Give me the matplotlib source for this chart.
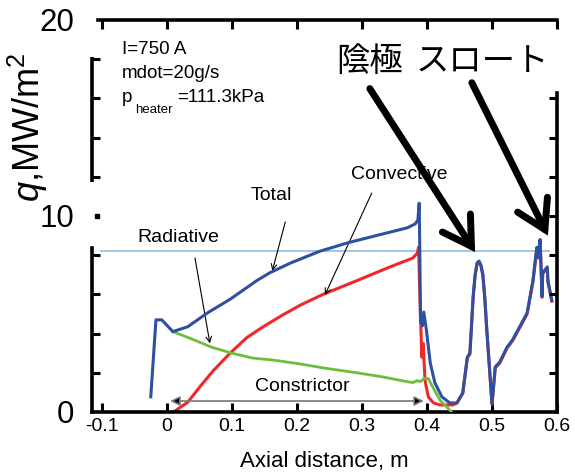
import matplotlib
matplotlib.use('Agg')
import matplotlib.pyplot as plt

plt.rcParams['font.family'] = ['Liberation Sans', 'Noto Sans CJK JP', 'DejaVu Sans']
plt.rcParams['mathtext.fontset'] = 'custom'
plt.rcParams['mathtext.rm'] = 'Liberation Sans'
plt.rcParams['mathtext.it'] = 'Liberation Sans:italic'
plt.rcParams['axes.unicode_minus'] = False

# 全熱流束 (Total)
total_x = [-0.025, -0.017, -0.008, 0.009, 0.032, 0.062, 0.097, 0.138, 0.158, 0.19,
           0.235, 0.28, 0.34, 0.37, 0.382, 0.386, 0.388, 0.389, 0.390, 0.393,
           0.395, 0.399, 0.405, 0.412, 0.423, 0.435, 0.446, 0.455, 0.462, 0.466,
           0.471, 0.474, 0.477, 0.480, 0.483, 0.486, 0.489, 0.492, 0.5, 0.505,
           0.512, 0.523, 0.532, 0.554, 0.563, 0.569, 0.571, 0.574, 0.577, 0.578,
           0.585, 0.586, 0.592]
total_q = [0.77, 4.7, 4.7, 4.1, 4.35, 5.05, 5.75, 6.7, 7.1, 7.6,
           8.2, 8.65, 9.15, 9.4, 9.6, 9.8, 10.65, 8.0, 4.6, 4.4,
           5.1, 4.2, 2.5, 1.5, 0.77, 0.46, 0.46, 0.97, 2.8, 3.0,
           5.9, 7.0, 7.6, 7.7, 7.5, 7.0, 5.8, 4.2, 0.4, 2.3,
           2.55, 3.3, 3.7, 5.05, 6.7, 8.4, 7.9, 8.8, 5.9, 7.1,
           7.4, 6.7, 5.7]

# 対流 (Convective)
conv_x = [0.01, 0.032, 0.051, 0.071, 0.097, 0.123, 0.148, 0.178, 0.205, 0.24,
          0.292, 0.343, 0.378, 0.385, 0.387, 0.389, 0.392, 0.394, 0.397, 0.402,
          0.41, 0.42, 0.44, 0.446, 0.455, 0.462, 0.466, 0.471, 0.474, 0.477,
          0.480, 0.483, 0.486, 0.489, 0.492, 0.5, 0.505, 0.512, 0.523, 0.532,
          0.554, 0.563, 0.569, 0.571, 0.574, 0.577, 0.578, 0.585, 0.586, 0.592]
conv_q = [0.0, 0.5, 1.3, 2.1, 3.0, 3.8, 4.35, 4.95, 5.45, 6.0,
          6.7, 7.4, 7.85, 8.1, 8.4, 6.0, 2.8, 3.5, 1.6, 0.77,
          0.46, 0.36, 0.36, 0.46, 0.95, 2.75, 2.95, 5.85, 6.95, 7.55,
          7.65, 7.45, 6.95, 5.75, 4.15, 0.4, 2.25, 2.5, 3.25, 3.65,
          5.0, 6.65, 8.35, 7.85, 8.75, 5.85, 7.05, 7.35, 6.65, 5.65]

# 輻射 (Radiative)
rad_x = [0.009, 0.04, 0.069, 0.1, 0.132, 0.163, 0.205, 0.24, 0.292, 0.33,
         0.369, 0.378, 0.385, 0.39, 0.395, 0.402, 0.41, 0.42, 0.435, 0.445]
rad_q = [4.1, 3.7, 3.3, 3.0, 2.75, 2.65, 2.45, 2.25, 2.0, 1.8,
         1.55, 1.5, 1.6, 1.55, 1.7, 1.7, 1.2, 0.6, 0.1, -0.3]

ref_level = 8.2
ref_x0, ref_x1 = -0.103, 0.589

x_ticks = [-0.1, 0, 0.1, 0.2, 0.3, 0.4, 0.5, 0.6]
x_labels = ['-0.1', '0', '0.1', '0.2', '0.3', '0.4', '0.5', '0.6']
y_major = [0, 10, 20]
y_minor_left = [2, 4, 6, 8, 12, 14, 16, 18]
y_ticks_right = [2, 4, 6, 8, 10, 12, 14, 16]

fig = plt.figure(figsize=(5.75, 4.76), dpi=100)
ax = fig.add_axes([0.16, 0.1345, 0.8087, 0.8235])
ax.set_xlim(-0.1154, 0.6)
ax.set_ylim(0, 20)

ax.hlines(ref_level, ref_x0, ref_x1, color='#8fbde3', lw=1.2, zorder=1)
ax.plot(conv_x, conv_q, color='#f0282a', lw=2.2, zorder=2)
ax.plot(rad_x, rad_q, color='#6cbf3c', lw=2.0, zorder=3)
ax.plot(total_x, total_q, color='#2d50a0', lw=2.2, zorder=4)

# 軸
sw = 2.6
for s in ax.spines.values():
    s.set_linewidth(sw)
ax.spines['right'].set_visible(False)
ax.spines['left'].set_bounds(0, 8.37)
ax.spines['top'].set_bounds(-0.106, 0.6)
ax.plot([-0.1154, -0.1154], [11.73, 18.1], color='black', lw=sw,
        solid_capstyle='butt', clip_on=False, zorder=5)
ax.plot([-0.107], [10], marker='s', ms=3.5, color='black', clip_on=False)

ax.set_xticks(x_ticks)
ax.set_xticklabels(x_labels)
ax.tick_params(axis='x', which='major', direction='in', length=6.5, width=2.2,
               top=True, bottom=True, labelsize=14, pad=4)
ax.set_yticks(y_major)
ax.set_yticklabels([str(v) for v in y_major])
ax.set_yticks(y_minor_left, minor=True)
ax.tick_params(axis='y', which='major', length=0, labelsize=22.5, pad=13)
ax.tick_params(axis='y', which='minor', direction='in', length=6, width=2.2)

axr = ax.twinx()
axr.set_ylim(0, 20)
axr.set_yticks(y_ticks_right)
axr.set_yticklabels([])
axr.tick_params(axis='y', direction='in', length=6, width=2.2)
for k in ['left', 'top', 'bottom']:
    axr.spines[k].set_visible(False)
axr.spines['right'].set_linewidth(sw)
axr.spines['right'].set_bounds(0, 16.3)

ax.set_xlabel('Axial distance, m', fontsize=16, labelpad=12)
fig.text(0.049, 1 - 127 / 476, r'$q$,MW/m$^2$', rotation=90, fontsize=26,
         ha='center', va='center')

# 条件
ax.text(-0.069, 18.27, 'I=750 A', fontsize=13.5, va='baseline')
ax.text(-0.069, 17.05, 'mdot=20g/s', fontsize=13.5, va='baseline')
ax.text(-0.069, 15.8, 'p', fontsize=13.5, va='baseline')
ax.text(-0.049, 15.25, 'heater', fontsize=9.5, va='baseline')
ax.text(0.016, 15.8, '=111.3kPa', fontsize=13.5, va='baseline')

# 曲線ラベル
thin = dict(arrowstyle='->', color='black', lw=0.8, shrinkA=0, shrinkB=0,
            mutation_scale=10)
ax.text(0.161, 11.05, 'Total', fontsize=14, ha='center', va='center')
ax.annotate('', xy=(0.162, 7.2), xytext=(0.182, 9.7), arrowprops=thin)
ax.text(0.017, 8.9, 'Radiative', fontsize=14, ha='center', va='center')
ax.annotate('', xy=(0.066, 3.5), xytext=(0.043, 7.86), arrowprops=thin)
ax.text(0.357, 12.1, 'Convective', fontsize=14, ha='center', va='center')
ax.annotate('', xy=(0.243, 5.97), xytext=(0.315, 11.17), arrowprops=thin)
ax.text(0.208, 1.3, 'Constrictor', fontsize=14, ha='center', va='center')
ax.annotate('', xy=(0.005, 0.56), xytext=(0.395, 0.56),
            arrowprops=dict(arrowstyle='<|-|>', ec='#777777', fc='black', lw=1.2,
                            shrinkA=0, shrinkB=0, mutation_scale=14))

# 陰極・スロート
big = dict(arrowstyle='->,head_length=1.0,head_width=0.6', color='black', lw=5,
           shrinkA=0, shrinkB=0, mutation_scale=20, capstyle='round',
           joinstyle='miter')
ax.text(0.312, 17.9, '陰極', fontsize=24, ha='center', va='center',
        family='Noto Sans CJK JP')
ax.text(0.486, 17.9, 'スロート', fontsize=24, ha='center', va='center',
        family='Noto Sans CJK JP')
ax.annotate('', xy=(0.474, 8.16), xytext=(0.312, 16.5), arrowprops=big)
ax.annotate('', xy=(0.586, 9.0), xytext=(0.469, 16.8), arrowprops=big)

fig.savefig('out.png', dpi=100)
